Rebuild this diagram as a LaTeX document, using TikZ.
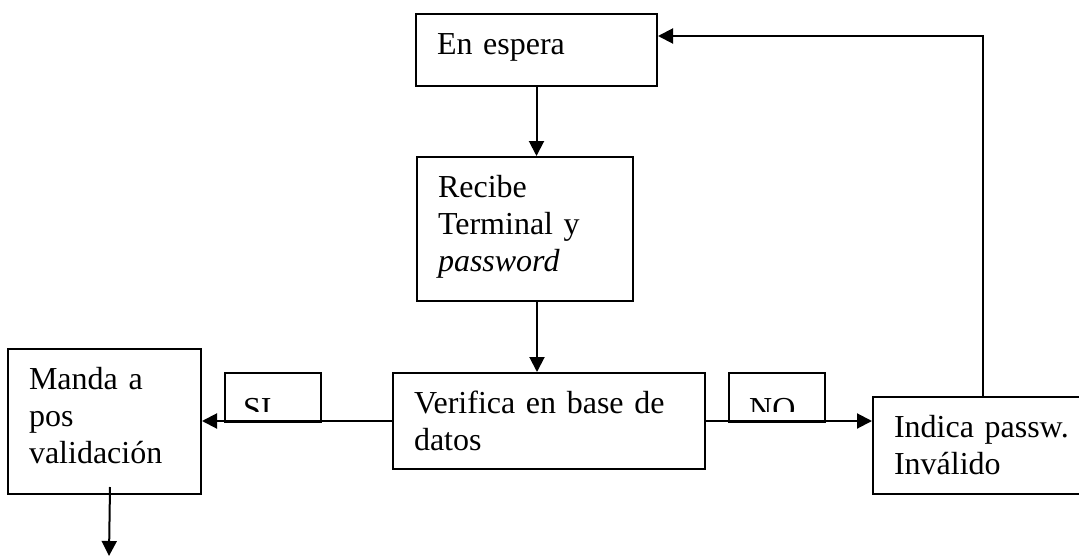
\documentclass[tikz,border=0pt]{standalone}
\usepackage{fontspec}
\setmainfont{Liberation Serif}
\usetikzlibrary{arrows.meta}

\begin{document}
\begin{tikzpicture}[x=1pt,y=-1pt,
		caja/.style={draw, line width=2pt, anchor=north west, inner xsep=21pt, inner ysep=0pt, align=left, text height=40pt, font=\fontsize{32}{37}\selectfont},
		marca/.style={draw, line width=2pt, anchor=north west, inner sep=0pt, minimum width=96pt, minimum height=49pt},
		letra/.style={anchor=base west, inner sep=0pt, font=\fontsize{32}{37}\selectfont},
		flecha/.style={line width=2pt, -{Triangle[length=15pt,width=15pt]}}]
			%%%%% START %%%%%
			\useasboundingbox (0,0) rectangle (1079,557);
			
			\node[caja, text width=199pt, text depth=32pt] (espera) at (415,13) {En espera};
			\node[caja, text width=174pt, text depth=104pt] (recibe) at (416,156) {Recibe\\Terminal y\\\textit{password}};
			\node[caja, text width=270pt, text depth=56pt] (verifica) at (392,372) {Verifica en base de\\datos};
			\node[caja, text width=151pt, text depth=105pt] (manda) at (7,348) {Manda a\\pos\\validación};
			\node[caja, text width=178pt, text depth=57pt] (indica) at (872,396) {Indica passw.\\Inválido};
			
			\node[marca] (si) at (224,372) {};
			\node[marca] (no) at (728,372) {};
			\begin{scope}
				\clip (si.north west) rectangle ([yshift=11.5pt]si.south east);
				\node[letra] (textosi) at ([xshift=19pt,yshift=4pt]si.south west) {SI};
			\end{scope}
			\begin{scope}
				\clip (no.north west) rectangle ([yshift=11.5pt]no.south east);
				\node[letra] (textono) at ([xshift=21pt,yshift=4pt]no.south west) {NO};
			\end{scope}
			
			\draw[flecha] (espera.south) -- (espera.south |- recibe.north);
			\draw[flecha] ([xshift=12pt]recibe.south) -- ([xshift=12pt]recibe.south |- verifica.north);
			\draw[flecha] (verifica.west) -- (verifica.west -| manda.east);
			\draw[flecha] (verifica.east) -- (verifica.east -| indica.west);
			\draw[flecha] (indica.north) |- ([yshift=14pt]espera.east);
			
			\coordinate (salida) at (109,556);
			\draw[flecha] ([xshift=5.5pt,yshift=8pt]manda.south) -- (salida);
			
			%%%%% END %%%%%
\end{tikzpicture}
\end{document}
